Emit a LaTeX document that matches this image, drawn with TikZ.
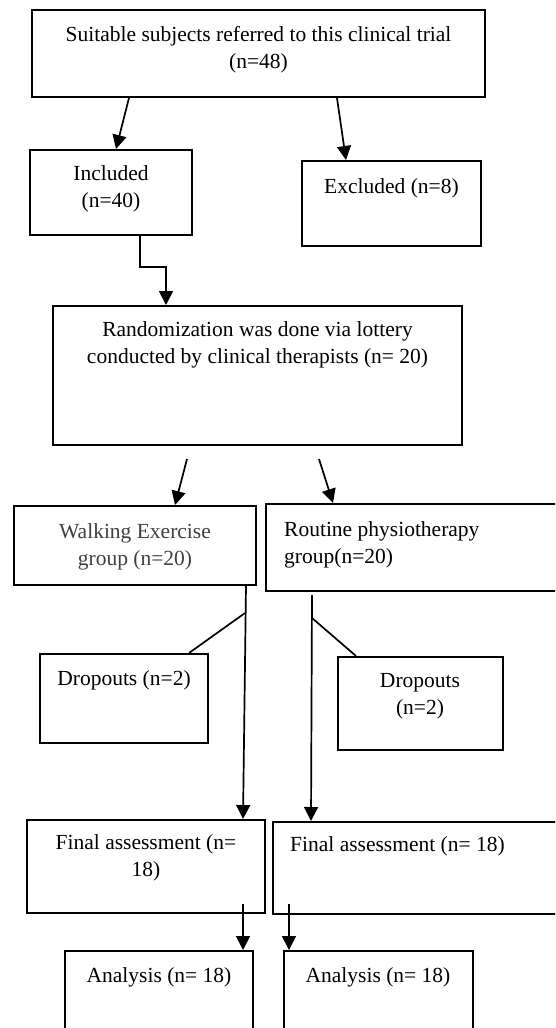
\documentclass[tikz,border=0pt]{standalone}
\usepackage{fontspec}
\setmainfont{Liberation Serif}
\usetikzlibrary{arrows.meta,calc}
\begin{document}
\begin{tikzpicture}[x=1pt,y=-1pt,
  box/.style={draw=black,line width=2pt,rectangle,inner sep=0pt},
  txt/.style={inner sep=0pt,align=center,anchor=base,font=\fontsize{21.5}{26.5}\selectfont},
  arr/.style={line width=1.7pt,-{Triangle[length=14pt,width=14pt]}},
  ln/.style={line width=1.7pt}]
\useasboundingbox (0,0) rectangle (555,1028);
\clip (0,0) rectangle (555,1028);
\fill[white] (0,0) rectangle (555,1028);
% boxes
\node[box,minimum width=453pt,minimum height=87pt] (top) at (258.5,53.5) {};
\node[box,minimum width=162pt,minimum height=85pt] (incl) at (111,192.5) {};
\node[box,minimum width=179pt,minimum height=85pt] (excl) at (391.5,203.5) {};
\node[box,minimum width=409pt,minimum height=139pt] (rand) at (257.5,375.5) {};
\node[box,minimum width=242pt,minimum height=79pt] (walk) at (135,545.5) {};
\node[box,minimum width=309pt,minimum height=87pt] (rout) at (420.5,547.5) {};
\node[box,minimum width=168pt,minimum height=89pt] (dropL) at (124,698.5) {};
\node[box,minimum width=165pt,minimum height=93pt] (dropR) at (420.5,703.5) {};
\node[box,minimum width=238pt,minimum height=93pt] (finL) at (146,866.5) {};
\node[box,minimum width=302pt,minimum height=92pt] (finR) at (424,868) {};
\node[box,minimum width=188pt,minimum height=99pt] (anaL) at (159,1000.5) {};
\node[box,minimum width=189pt,minimum height=99pt] (anaR) at (378.5,1000.5) {};
% texts (anchor=base is the baseline of the last line)
\node[txt] (ttop) at (258.5,68) {Suitable subjects referred to this clinical trial\\(n=48)};
\node[txt] (tincl) at (111,207) {Included\\(n=40)};
\node[txt] (texcl) at (391.5,193) {Excluded (n=8)};
\node[txt] (trand) at (257.5,363) {Randomization was done via lottery\\conducted by clinical therapists (n= 20)};
\node[txt,text=black!75] (twalk) at (135,565) {Walking Exercise\\group (n=20)};
\node[txt,align=left,anchor=base west] (trout) at (284,563) {Routine physiotherapy\\group(n=20)};
\node[txt] (tdropL) at (124,685) {Dropouts (n=2)};
\node[txt] (tdropR) at (420,714) {Dropouts\\(n=2)};
\node[txt] (tfinL) at (146,876) {Final assessment (n=\\18)};
\node[txt] (tfinR) at (397.5,851) {Final assessment (n= 18)};
\node[txt] (tanaL) at (159,982) {Analysis (n= 18)};
\node[txt] (tanaR) at (378,982) {Analysis (n= 18)};
% connectors
\draw[arr] ($(top.south west)+(98,0)$) -- ($(incl.north)+(5,0)$);
\draw[arr] ($(top.south west)+(306,0)$) -- ($(excl.north west)+(45,0)$);
\draw[arr] ($(incl.south west)+(111,0)$) |- ($(rand.north west)+(88,-38)$) -- ($(rand.north west)+(114,-38)$) -- ($(rand.north west)+(114,0)$);
\draw[arr] ($(rand.south west)+(135,13)$) -- ($(walk.north)+(40,0)$);
\draw[arr] ($(rand.south west)+(267,13)$) -- ($(rout.north west)+(68,0)$);
\draw[arr] ($(walk.south east)+(-11,0)$) -- ($(finL.north east)+(-23,0)$);
\coordinate (bL) at ($(walk.south east)+(-12,27)$);
\draw[ln] (bL) -- ($(dropL.north west)+(150,0)$);
\draw[arr] ($(rout.south west)+(47,3)$) -- ($(finR.north west)+(39,0)$);
\coordinate (bR) at ($(rout.south west)+(47,26)$);
\draw[ln] (bR) -- ($(dropR.north west)+(19,0)$);
\draw[arr] ($(finL.south east)+(-23,-10)$) -- ($(anaL.north east)+(-11,0)$);
\draw[arr] ($(finR.south west)+(17,-11)$) -- ($(anaR.north west)+(6,0)$);
\end{tikzpicture}
\end{document}
